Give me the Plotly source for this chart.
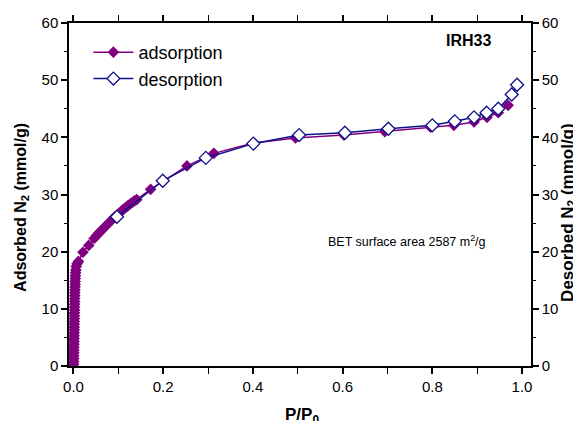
import plotly.graph_objects as go

# Adsorption branch (P/P0, mmol/g)
ads_x = [0.0003, 0.0005, 0.0006, 0.0007, 0.0008, 0.0009, 0.0010, 0.0011, 0.0012, 0.0013,
         0.0014, 0.0015, 0.0016, 0.0017, 0.0018, 0.0019, 0.0020, 0.0021, 0.0022, 0.0023,
         0.0024, 0.0025, 0.0026, 0.0027, 0.0028, 0.0030, 0.0032, 0.0034, 0.0036, 0.0038,
         0.0040, 0.0043, 0.0047, 0.0052, 0.0060, 0.0080, 0.0110,
         0.021, 0.034,
         0.046, 0.051, 0.056, 0.061, 0.066, 0.071, 0.076, 0.081, 0.086, 0.091,
         0.096, 0.101, 0.106, 0.111, 0.116, 0.121, 0.126, 0.131, 0.136, 0.141,
         0.172, 0.253, 0.313, 0.401, 0.495, 0.603, 0.694, 0.796, 0.848, 0.893,
         0.922, 0.947, 0.969]
ads_y = [0.3, 0.8, 1.3, 1.8, 2.3, 2.8, 3.3, 3.8, 4.3, 4.8,
         5.3, 5.8, 6.3, 6.8, 7.3, 7.8, 8.3, 8.8, 9.3, 9.8,
         10.3, 10.8, 11.3, 11.8, 12.3, 12.8, 13.3, 13.8, 14.3, 14.8,
         15.3, 15.8, 16.3, 16.8, 17.4, 17.9, 18.3,
         19.9, 21.1,
         22.3, 22.8, 23.2, 23.6, 24.0, 24.4, 24.8, 25.2, 25.6, 26.0,
         26.3, 26.7, 27.0, 27.4, 27.7, 28.0, 28.3, 28.6, 28.9, 29.1,
         30.9, 35.0, 37.2, 39.0, 39.9, 40.4, 41.0, 41.8, 42.1, 42.7,
         43.5, 44.3, 45.6]

# Desorption branch
des_x = [0.989, 0.977, 0.947, 0.921, 0.893, 0.850, 0.800, 0.702, 0.605, 0.503,
         0.401, 0.295, 0.199, 0.097]
des_y = [49.2, 47.5, 45.0, 44.3, 43.5, 42.8, 42.1, 41.5, 40.8, 40.4,
         38.9, 36.4, 32.4, 26.1]

x_ticks = [0.0, 0.2, 0.4, 0.6, 0.8, 1.0]
y_ticks = [0, 10, 20, 30, 40, 50, 60]

FONT = "Liberation Sans, Arial, sans-serif"
PURPLE = "#800080"
NAVY = "#10108a"

fig = go.Figure()
fig.add_trace(go.Scatter(
    x=ads_x, y=ads_y, mode="lines+markers", name="adsorption",
    line=dict(color=PURPLE, width=1.5),
    marker=dict(symbol="diamond", size=9, color=PURPLE, line=dict(width=0)),
))
fig.add_trace(go.Scatter(
    x=des_x, y=des_y, mode="lines+markers", name="desorption", yaxis="y2",
    line=dict(color=NAVY, width=1.5),
    marker=dict(symbol="diamond", size=10, color="white", line=dict(color=NAVY, width=1.3)),
))

axis_common = dict(
    showgrid=False, zeroline=False, showline=True, linecolor="black", linewidth=1.5,
    ticks="outside", ticklen=6, tickwidth=1.5, tickcolor="black", automargin=False,
    tickfont=dict(family=FONT, size=15, color="black"),
)
minor_common = dict(ticks="outside", ticklen=3, tickcolor="black", tickwidth=1.2)

# page has an 8px body margin, so the figure is sized to fit the 581x421 window
fig.update_layout(
    width=573, height=413,
    margin=dict(l=61, r=50, t=15, b=55),
    paper_bgcolor="white", plot_bgcolor="white",
    font=dict(family=FONT, color="black"),
    showlegend=True,
    legend=dict(x=0.042, y=0.968, xanchor="left", yanchor="top",
                bgcolor="rgba(0,0,0,0)", font=dict(family=FONT, size=18, color="black"),
                tracegroupgap=0, itemwidth=40),
    xaxis=dict(range=[-0.01, 1.02], tickvals=x_ticks, tickformat=".1f",
               minor=dict(dtick=0.1, **minor_common), mirror="allticks", **axis_common),
    yaxis=dict(range=[0, 60], tickvals=y_ticks,
               minor=dict(dtick=5, **minor_common), **axis_common),
    yaxis2=dict(range=[0, 60], tickvals=y_ticks, overlaying="y", side="right",
                minor=dict(dtick=5, **minor_common), **axis_common),
    annotations=[
        dict(text="<b>P/P<sub>0</sub></b>", xref="paper", yref="paper", x=0.504, y=-0.108,
             xanchor="center", yanchor="top", showarrow=False,
             font=dict(family=FONT, size=17, color="black")),
        dict(text="<b>Adsorbed N<sub>2</sub> (mmol/g)</b>", xref="paper", yref="paper",
             x=-0.1017, y=0.461, xanchor="center", yanchor="middle", textangle=-90,
             showarrow=False, font=dict(family=FONT, size=16, color="black")),
        dict(text="<b>Desorbed N<sub>2</sub> (mmol/g)</b>", xref="paper", yref="paper",
             x=1.082, y=0.449, xanchor="center", yanchor="middle", textangle=-90,
             showarrow=False, font=dict(family=FONT, size=17, color="black")),
        dict(text="<b>IRH33</b>", xref="paper", yref="paper", x=0.864, y=0.95,
             xanchor="center", yanchor="middle",
             showarrow=False, font=dict(family=FONT, size=16, color="black")),
        dict(text="BET surface area 2587 m<sup>2</sup>/g", xref="paper", yref="paper",
             x=0.732, y=0.364, xanchor="center", yanchor="middle",
             showarrow=False, font=dict(family=FONT, size=12.5, color="black")),
    ],
)

fig.write_html("out.html")
